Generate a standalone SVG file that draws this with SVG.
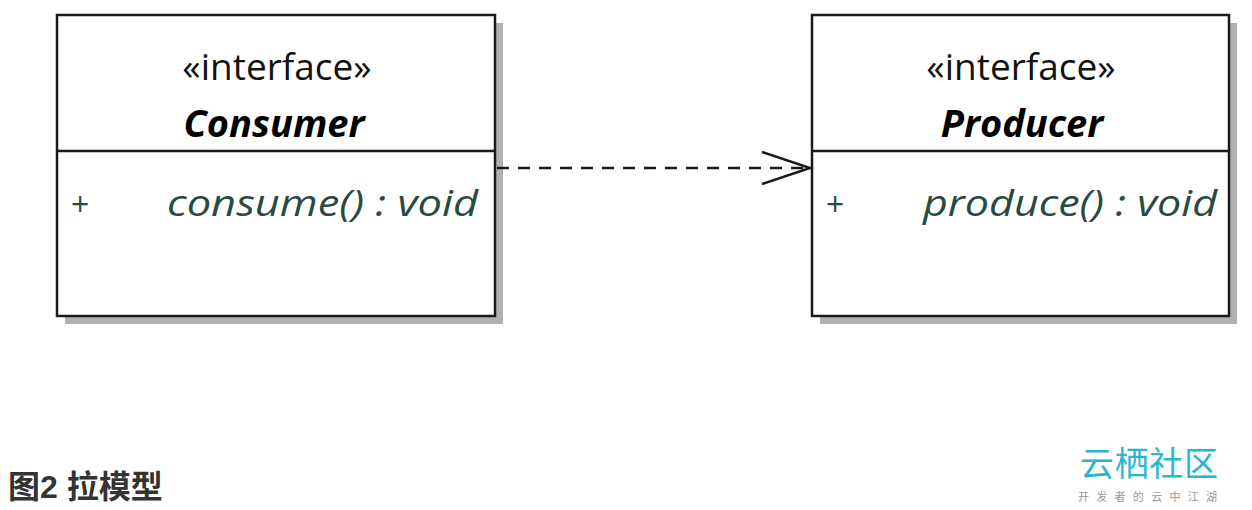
<svg xmlns="http://www.w3.org/2000/svg" width="1252" height="510" viewBox="0 0 1252 510">
<style>
.box{fill:#fff;stroke:#1a1a1a;stroke-width:2.5}
.sh{fill:#b0b0b0}
.st{font-family:"Open Sans","DejaVu Sans",sans-serif;font-size:37px;fill:#111;text-anchor:middle}
.nm{font-family:"Open Sans","DejaVu Sans",sans-serif;font-size:38px;font-weight:bold;font-style:italic;fill:#000;text-anchor:middle}
.op{font-family:"Open Sans","DejaVu Sans",sans-serif;font-size:37px;font-style:italic;fill:#2a4a3f}
.pl{font-family:"Open Sans","DejaVu Sans",sans-serif;font-size:32px;fill:#2a4a3f}
</style>
<rect width="1252" height="510" fill="#fff"/>
<g id="consumer">
<rect class="sh" x="65" y="23" width="438" height="301"/>
<rect class="box" x="57" y="15" width="438" height="301"/>
<line x1="57" y1="151" x2="495" y2="151" stroke="#1a1a1a" stroke-width="2.5"/>
<text class="st" x="277" y="80">«interface»</text>
<text class="nm" x="274" y="137">Consumer</text>
<text class="pl" x="71" y="216">+</text>
<text class="op" x="167" y="216" textLength="311" lengthAdjust="spacingAndGlyphs">consume() : void</text>
</g>
<g id="producer">
<rect class="sh" x="820" y="23" width="417" height="301"/>
<rect class="box" x="812" y="15" width="417" height="301"/>
<line x1="812" y1="151" x2="1229" y2="151" stroke="#1a1a1a" stroke-width="2.5"/>
<text class="st" x="1021" y="80">«interface»</text>
<text class="nm" x="1022" y="137">Producer</text>
<text class="pl" x="826" y="216">+</text>
<text class="op" x="923" y="216" textLength="294" lengthAdjust="spacingAndGlyphs">produce() : void</text>
</g>
<g id="connectors" fill="none" stroke="#1a1a1a" stroke-width="2.5">
<line x1="497" y1="168" x2="810" y2="168" stroke-dasharray="12 9"/>
<polyline points="762,152 810,168 762,184"/>
</g>
<text x="8" y="498" font-family="'Liberation Sans','Noto Sans CJK SC',sans-serif" font-size="32" font-weight="bold" fill="#333">图2 拉模型</text>
<text x="1080" y="476" font-family="'Noto Sans CJK SC',sans-serif" font-size="34" fill="#2bb5d0" textLength="138">云栖社区</text>
<text x="1078" y="501" font-family="'Noto Sans CJK SC',sans-serif" font-size="11" fill="#999" textLength="139">开发者的云中江湖</text>
</svg>
